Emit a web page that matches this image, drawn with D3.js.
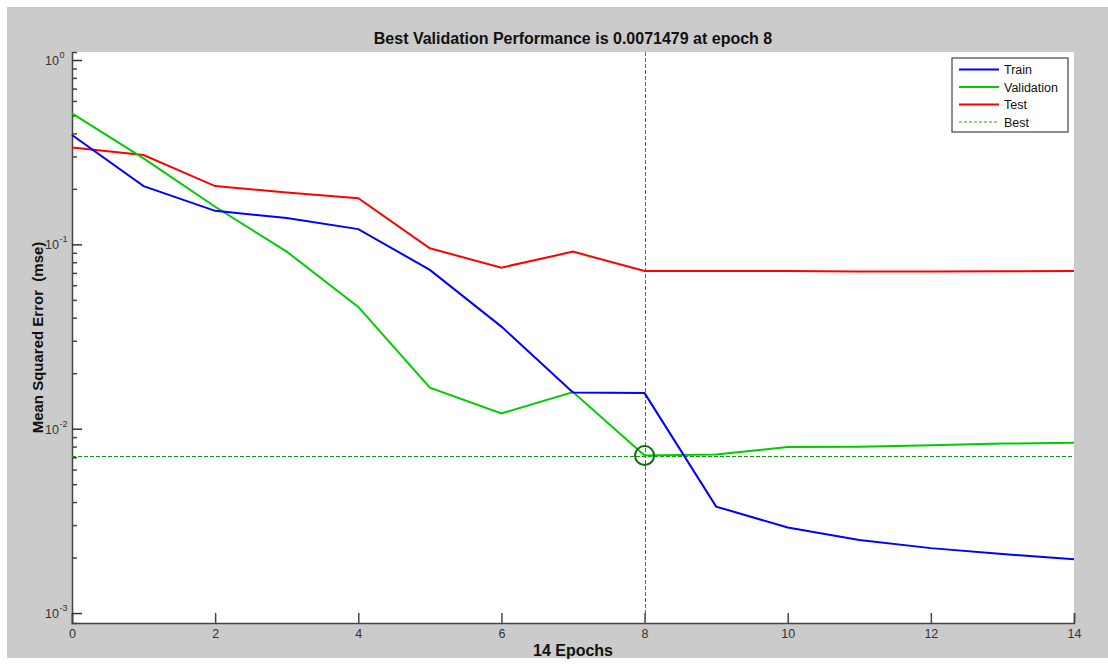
<!DOCTYPE html>
<html>
<head>
<meta charset="utf-8">
<script src="https://cdn.jsdelivr.net/npm/d3@7"></script>
<style>
    body { margin: 0; background: #ffffff; }
    svg { display: block; font-family: "Liberation Sans", Arial, sans-serif; }
</style>
</head>
<body>
<div id="chart"></div>
<script>
// Data
const epochs = [0, 1, 2, 3, 4, 5, 6, 7, 8, 9, 10, 11, 12, 13, 14];
const train = [0.392, 0.207, 0.152, 0.139, 0.121, 0.0727, 0.0358, 0.0157, 0.0156, 0.00378, 0.00291, 0.00249, 0.00225, 0.00209, 0.00196];
const validation = [0.514, 0.293, 0.160, 0.0913, 0.0458, 0.0167, 0.0121, 0.0158, 0.0071479, 0.00725, 0.00795, 0.00797, 0.00814, 0.0083, 0.0084];
const test = [0.335, 0.305, 0.207, 0.191, 0.178, 0.0952, 0.0748, 0.0913, 0.0717, 0.0717, 0.0717, 0.0713, 0.0713, 0.0715, 0.0716];
const xTicks = [0, 2, 4, 6, 8, 10, 12, 14];
const yDecades = [-3, -2, -1, 0];
const bestEpoch = 8;
const bestValue = 0.0071479;

const WIDTH = 1108;
const HEIGHT = 668;
const PLOT = { left: 72, right: 1074, top: 52, bottom: 623 };

const svg = d3.select("#chart")
    .append("svg")
    .attr("width", WIDTH)
    .attr("height", HEIGHT);

// Figure background (grey panel)
svg.append("rect")
    .attr("x", 7).attr("y", 7)
    .attr("width", WIDTH - 7).attr("height", 651)
    .attr("fill", "#cbcbcb");

svg.append("rect")
    .attr("x", PLOT.left).attr("y", PLOT.top)
    .attr("width", PLOT.right - PLOT.left).attr("height", PLOT.bottom - PLOT.top)
    .attr("fill", "#ffffff");

// Scales
const xScale = d3.scaleLinear().domain([0, 14]).range([PLOT.left, PLOT.right]);
const yScale = d3.scaleLog()
    .domain([Math.pow(10, -3.054), Math.pow(10, 0.0435)])
    .range([PLOT.bottom, PLOT.top]);

// Title
svg.append("text")
    .attr("x", (PLOT.left + PLOT.right) / 2)
    .attr("y", 44)
    .attr("text-anchor", "middle")
    .attr("font-size", 16)
    .attr("font-weight", "bold")
    .attr("fill", "#111")
    .text(`Best Validation Performance is ${bestValue} at epoch ${bestEpoch}`);

// Axis labels
svg.append("text")
    .attr("x", (PLOT.left + PLOT.right) / 2)
    .attr("y", 656)
    .attr("text-anchor", "middle")
    .attr("font-size", 16)
    .attr("font-weight", "bold")
    .attr("fill", "#111")
    .text(`${epochs.length - 1} Epochs`);

svg.append("text")
    .attr("transform", `translate(43,${(PLOT.top + PLOT.bottom) / 2}) rotate(-90)`)
    .attr("text-anchor", "middle")
    .attr("font-size", 15)
    .attr("font-weight", "bold")
    .attr("fill", "#111")
    .attr("xml:space", "preserve")
    .text("Mean Squared Error  (mse)");

// X axis: ticks pointing inward
const xAxis = svg.append("g")
    .attr("transform", `translate(0,${PLOT.bottom})`)
    .call(d3.axisBottom(xScale).tickValues(xTicks).tickSize(-10).tickPadding(6).tickFormat(d3.format("d")));
xAxis.select(".domain").attr("stroke", "#444").attr("stroke-width", 1.5);
xAxis.selectAll(".tick line").attr("stroke", "#444").attr("stroke-width", 1.5);
xAxis.selectAll(".tick text")
    .attr("font-size", 12.5)
    .attr("fill", "#333")
    .attr("font-family", "\"Liberation Sans\", Arial, sans-serif");

// Y axis: decades with minor ticks
const minorTicks = [];
yDecades.slice(0, -1).forEach(e => {
    for (let m = 2; m <= 9; m++) minorTicks.push(m * Math.pow(10, e));
});
const yAxis = svg.append("g").attr("transform", `translate(${PLOT.left},0)`);
yAxis.call(d3.axisLeft(yScale).tickValues(minorTicks).tickSize(-5).tickFormat(""));
yAxis.select(".domain").attr("stroke", "#444").attr("stroke-width", 1.5);
yAxis.selectAll(".tick line").attr("stroke", "#444").attr("stroke-width", 1.5);

const yMajor = svg.append("g").attr("transform", `translate(${PLOT.left},0)`);
yMajor.call(d3.axisLeft(yScale).tickValues(yDecades.map(e => Math.pow(10, e))).tickSize(-10).tickFormat(""));
yMajor.select(".domain").remove();
yMajor.selectAll(".tick line").attr("stroke", "#333").attr("stroke-width", 1.5);

// "10" base right-aligned, exponent placed after it
const yLabels = svg.append("g").attr("fill", "#333");
yDecades.forEach(e => {
    const y = yScale(Math.pow(10, e)) + 5;
    yLabels.append("text")
        .attr("x", PLOT.left - 13)
        .attr("y", y)
        .attr("text-anchor", "end")
        .attr("font-size", 12.5)
        .text("10");
    yLabels.append("text")
        .attr("x", PLOT.left - 12.5)
        .attr("y", y - 7)
        .attr("font-size", 9)
        .text(e);
});

// Best markers
const plotArea = svg.append("g");
const bestY = Math.round(yScale(bestValue)) + 0.5;
const bestX = Math.round(xScale(bestEpoch)) + 0.5;
plotArea.append("line")
    .attr("x1", PLOT.left).attr("x2", PLOT.right)
    .attr("y1", bestY).attr("y2", bestY)
    .attr("stroke", "#169616").attr("stroke-width", 1).attr("stroke-dasharray", "4,2");
plotArea.append("line")
    .attr("x1", bestX).attr("x2", bestX)
    .attr("y1", PLOT.top).attr("y2", PLOT.bottom)
    .attr("stroke", "#169616").attr("stroke-width", 1).attr("stroke-dasharray", "4,2");

// Series lines
const series = [
    { name: "Train", values: train, color: "#0000ff" },
    { name: "Validation", values: validation, color: "#00cc00" },
    { name: "Test", values: test, color: "#ff0000" }
];
const line = d3.line()
    .x((d, i) => xScale(epochs[i]))
    .y(d => yScale(d));

// draw test first, then validation, then train (train on top like the figure)
[series[2], series[1], series[0]].forEach(s => {
    plotArea.append("path")
        .datum(s.values)
        .attr("fill", "none")
        .attr("stroke", s.color)
        .attr("stroke-width", 2)
        .attr("d", line);
});

plotArea.append("circle")
    .attr("cx", xScale(bestEpoch))
    .attr("cy", yScale(bestValue))
    .attr("r", 9.5)
    .attr("fill", "none")
    .attr("stroke", "#0b6e0b")
    .attr("stroke-width", 2);

// Legend
const legend = svg.append("g").attr("transform", "translate(952,58)");
legend.append("rect")
    .attr("width", 116).attr("height", 74)
    .attr("fill", "#ffffff")
    .attr("stroke", "#444").attr("stroke-width", 1.2);
const legendItems = [
    { name: "Train", color: "#0000ff", dash: null },
    { name: "Validation", color: "#00cc00", dash: null },
    { name: "Test", color: "#ff0000", dash: null },
    { name: "Best", color: "#2a9a2a", dash: "3,2" }
];
legendItems.forEach((d, i) => {
    const y = 11.5 + i * 17.5;
    legend.append("line")
        .attr("x1", 7).attr("x2", 47)
        .attr("y1", y).attr("y2", y)
        .attr("stroke", d.color)
        .attr("stroke-width", d.dash ? 1 : 2)
        .attr("stroke-dasharray", d.dash);
    legend.append("text")
        .attr("x", 52).attr("y", y + 4.5)
        .attr("font-size", 12.5)
        .attr("fill", "#111")
        .text(d.name);
});
</script>
</body>
</html>
